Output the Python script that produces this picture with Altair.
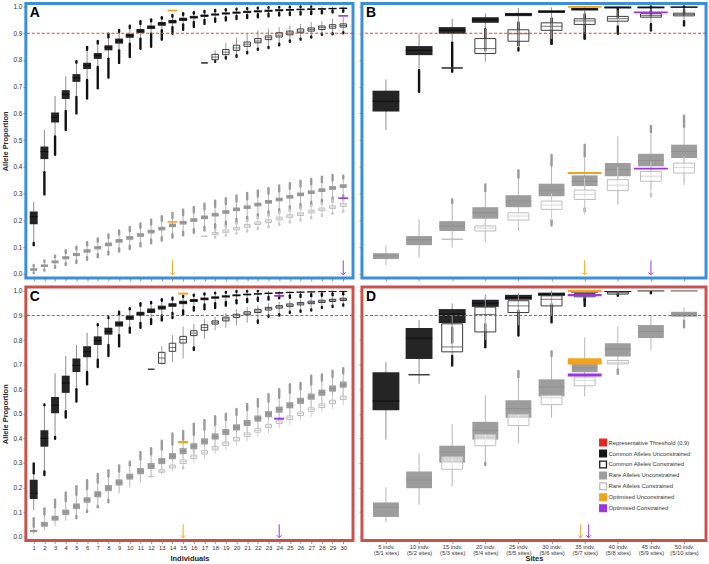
import json
import altair as alt
import pandas as pd

FONT = "Liberation Sans"

# ---------------------------------------------------------------- categories
INDIVIDUALS = list(range(1, 31))
SITE_GROUPS = list(range(1, 11))
SITE_LABELS = [
    ["5 indv.", "(5/1 sites)"], ["10 indv.", "(5/2 sites)"], ["15 indv.", "(5/3 sites)"],
    ["20 indv.", "(5/4 sites)"], ["25 indv.", "(5/5 sites)"], ["30 indv.", "(5/6 sites)"],
    ["35 indv.", "(5/7 sites)"], ["40 indv.", "(5/8 sites)"], ["45 indv.", "(5/9 sites)"],
    ["50 indv.", "(5/10 sites)"],
]
Y_TICKS = [0.0, 0.1, 0.2, 0.3, 0.4, 0.5, 0.6, 0.7, 0.8, 0.9, 1.0]
THRESHOLD = 0.9

LEGEND_LABELS = [
    "Representative Threshold (0.9)",
    "Common Alleles Unconstrained",
    "Common Alleles Constrained",
    "Rare Alleles Unconstrained",
    "Rare Alleles Constrained",
    "Optimised Unconstrained",
    "Optimised Constrained",
]

# Box summaries: (x, outlier min, whisker low, Q1, median, Q3, whisker high, outlier max)
# ---------------------------------------------------------------- panel A
A_COMMON_UNC = [
    (1, 0.107, 0.115, 0.185, 0.213, 0.233, 0.268, 0.268),
    (2, 0.297, 0.38, 0.429, 0.457, 0.476, 0.538, 0.538),
    (3, 0.445, 0.514, 0.566, 0.586, 0.603, 0.665, 0.665),
    (4, 0.538, 0.609, 0.654, 0.671, 0.687, 0.739, 0.739),
    (5, 0.60, 0.662, 0.718, 0.733, 0.747, 0.79, 0.795),
    (6, 0.656, 0.725, 0.766, 0.779, 0.79, 0.838, 0.849),
    (7, 0.694, 0.774, 0.804, 0.816, 0.826, 0.862, 0.871),
    (8, 0.734, 0.805, 0.836, 0.846, 0.855, 0.885, 0.898),
    (9, 0.789, 0.836, 0.861, 0.871, 0.88, 0.905, 0.912),
    (10, 0.811, 0.861, 0.883, 0.892, 0.898, 0.92, 0.928),
    (11, 0.842, 0.88, 0.901, 0.908, 0.916, 0.935, 0.945),
    (12, 0.849, 0.898, 0.916, 0.923, 0.929, 0.945, 0.952),
    (13, 0.876, 0.911, 0.928, 0.935, 0.942, 0.955, 0.96),
    (14, 0.898, 0.923, 0.937, 0.943, 0.95, 0.962, 0.968),
    (15, 0.913, 0.933, 0.946, 0.952, 0.958, 0.968, 0.975),
    (16, 0.923, 0.942, 0.955, 0.96, 0.965, 0.974, 0.979),
    (17, 0.935, 0.95, 0.961, 0.966, 0.97, 0.978, 0.983),
    (18, 0.943, 0.955, 0.966, 0.97, 0.974, 0.982, 0.987),
    (19, 0.948, 0.96, 0.97, 0.974, 0.978, 0.986, 0.99),
    (20, 0.953, 0.965, 0.973, 0.977, 0.981, 0.989, 0.992),
    (21, 0.957, 0.968, 0.976, 0.98, 0.984, 0.991, 0.994),
    (22, 0.96, 0.971, 0.978, 0.982, 0.986, 0.993, 0.996),
    (23, 0.963, 0.973, 0.98, 0.984, 0.988, 0.995, 0.997),
    (24, 0.966, 0.976, 0.982, 0.986, 0.99, 0.996, 0.998),
    (25, 0.968, 0.978, 0.984, 0.988, 0.991, 0.997, 0.999),
    (26, 0.97, 0.98, 0.986, 0.989, 0.992, 0.998, 1.0),
    (27, 0.972, 0.982, 0.987, 0.99, 0.993, 0.999, 1.0),
    (28, 0.975, 0.983, 0.988, 0.991, 0.994, 1.0, 1.0),
    (29, 0.978, 0.985, 0.99, 0.992, 0.995, 1.0, 1.0),
    (30, 0.98, 0.986, 0.991, 0.993, 0.996, 1.0, 1.0),
]
A_COMMON_CON = [
    (17, 0.789, 0.789, 0.789, 0.789, 0.789, 0.789, 0.789),
    (18, 0.793, 0.795, 0.801, 0.811, 0.821, 0.836, 0.836),
    (19, 0.805, 0.811, 0.82, 0.829, 0.839, 0.864, 0.864),
    (20, 0.812, 0.818, 0.836, 0.845, 0.855, 0.883, 0.883),
    (21, 0.825, 0.83, 0.851, 0.859, 0.867, 0.898, 0.898),
    (22, 0.838, 0.842, 0.864, 0.871, 0.88, 0.911, 0.911),
    (23, 0.845, 0.849, 0.876, 0.883, 0.89, 0.917, 0.917),
    (24, 0.855, 0.861, 0.886, 0.893, 0.902, 0.923, 0.923),
    (25, 0.868, 0.873, 0.894, 0.901, 0.908, 0.929, 0.929),
    (26, 0.876, 0.88, 0.902, 0.908, 0.916, 0.935, 0.935),
    (27, 0.884, 0.888, 0.908, 0.914, 0.92, 0.942, 0.942),
    (28, 0.894, 0.898, 0.914, 0.921, 0.927, 0.945, 0.945),
    (29, 0.896, 0.9, 0.919, 0.926, 0.932, 0.954, 0.954),
    (30, 0.9, 0.904, 0.923, 0.929, 0.935, 0.96, 0.96),
]
A_RARE_UNC = [
    (1, 0.003, 0.005, 0.011, 0.015, 0.021, 0.028, 0.033),
    (2, 0.012, 0.016, 0.025, 0.03, 0.035, 0.045, 0.05),
    (3, 0.022, 0.028, 0.039, 0.045, 0.05, 0.062, 0.068),
    (4, 0.033, 0.04, 0.054, 0.06, 0.066, 0.078, 0.088),
    (5, 0.04, 0.05, 0.066, 0.072, 0.078, 0.092, 0.101),
    (6, 0.052, 0.062, 0.079, 0.086, 0.092, 0.107, 0.118),
    (7, 0.062, 0.073, 0.091, 0.098, 0.104, 0.12, 0.132),
    (8, 0.072, 0.083, 0.103, 0.11, 0.117, 0.134, 0.147),
    (9, 0.083, 0.095, 0.116, 0.123, 0.13, 0.148, 0.162),
    (10, 0.093, 0.105, 0.127, 0.134, 0.141, 0.16, 0.175),
    (11, 0.103, 0.115, 0.138, 0.145, 0.152, 0.172, 0.188),
    (12, 0.114, 0.127, 0.151, 0.158, 0.165, 0.185, 0.202),
    (13, 0.124, 0.137, 0.162, 0.169, 0.176, 0.197, 0.215),
    (14, 0.135, 0.148, 0.174, 0.181, 0.188, 0.209, 0.228),
    (15, 0.144, 0.157, 0.184, 0.191, 0.198, 0.22, 0.24),
    (16, 0.153, 0.167, 0.194, 0.201, 0.208, 0.23, 0.25),
    (17, 0.162, 0.176, 0.204, 0.211, 0.218, 0.241, 0.262),
    (18, 0.171, 0.185, 0.214, 0.221, 0.228, 0.251, 0.273),
    (19, 0.18, 0.195, 0.224, 0.231, 0.238, 0.261, 0.283),
    (20, 0.19, 0.205, 0.234, 0.241, 0.248, 0.271, 0.293),
    (21, 0.198, 0.213, 0.242, 0.249, 0.256, 0.279, 0.302),
    (22, 0.208, 0.223, 0.252, 0.259, 0.266, 0.289, 0.312),
    (23, 0.218, 0.233, 0.262, 0.269, 0.276, 0.299, 0.321),
    (24, 0.227, 0.242, 0.271, 0.278, 0.285, 0.308, 0.33),
    (25, 0.237, 0.252, 0.281, 0.288, 0.295, 0.318, 0.339),
    (26, 0.246, 0.261, 0.29, 0.297, 0.304, 0.327, 0.348),
    (27, 0.254, 0.269, 0.298, 0.305, 0.312, 0.335, 0.355),
    (28, 0.262, 0.277, 0.306, 0.313, 0.32, 0.343, 0.363),
    (29, 0.27, 0.285, 0.314, 0.321, 0.328, 0.35, 0.37),
    (30, 0.278, 0.293, 0.321, 0.328, 0.335, 0.357, 0.367),
]
A_RARE_CON = [
    (17, 0.14, 0.14, 0.14, 0.14, 0.14, 0.14, 0.14),
    (18, 0.135, 0.138, 0.146, 0.15, 0.154, 0.162, 0.165),
    (19, 0.142, 0.145, 0.155, 0.159, 0.164, 0.174, 0.178),
    (20, 0.15, 0.153, 0.164, 0.169, 0.174, 0.186, 0.19),
    (21, 0.158, 0.162, 0.174, 0.179, 0.184, 0.197, 0.2),
    (22, 0.167, 0.171, 0.184, 0.189, 0.194, 0.208, 0.212),
    (23, 0.174, 0.178, 0.192, 0.197, 0.202, 0.217, 0.22),
    (24, 0.183, 0.187, 0.202, 0.207, 0.212, 0.227, 0.23),
    (25, 0.192, 0.196, 0.211, 0.216, 0.221, 0.236, 0.24),
    (26, 0.199, 0.203, 0.218, 0.223, 0.228, 0.243, 0.247),
    (27, 0.208, 0.212, 0.228, 0.233, 0.238, 0.254, 0.257),
    (28, 0.216, 0.22, 0.236, 0.241, 0.246, 0.262, 0.265),
    (29, 0.224, 0.228, 0.244, 0.249, 0.254, 0.27, 0.274),
    (30, 0.232, 0.236, 0.252, 0.258, 0.264, 0.28, 0.284),
]
A_OPT_UNC = [(14, 0.982, 0.988), (14, 0.191, 0.197)]
A_OPT_CON = [(30, 0.962, 0.968), (30, 0.28, 0.286)]
A_ARROW_UNC = [14]
A_ARROW_CON = [30]

# ---------------------------------------------------------------- panel B
B_COMMON_UNC = [
    (1, 0.538, 0.538, 0.607, 0.646, 0.685, 0.727, 0.727),
    (2, 0.681, 0.762, 0.818, 0.836, 0.852, 0.898, 0.898),
    (3, 0.756, 0.865, 0.898, 0.911, 0.923, 0.954, 0.954),
    (4, 0.836, 0.915, 0.939, 0.95, 0.96, 0.975, 0.975),
    (5, 0.855, 0.94, 0.964, 0.97, 0.976, 0.995, 0.995),
    (6, 0.861, 0.955, 0.976, 0.981, 0.986, 0.997, 0.997),
    (7, 0.88, 0.97, 0.985, 0.99, 0.995, 1.0, 1.0),
    (8, 0.96, 0.985, 0.993, 0.997, 1.0, 1.0, 1.0),
    (9, 0.965, 0.985, 0.993, 0.997, 1.0, 1.0, 1.0),
    (10, 0.97, 0.988, 0.995, 0.998, 1.0, 1.0, 1.0),
]
B_COMMON_CON = [
    (3, 0.77, 0.77, 0.77, 0.77, 0.77, 0.77, 0.77),
    (4, 0.793, 0.793, 0.824, 0.843, 0.88, 0.917, 0.917),
    (5, 0.835, 0.845, 0.87, 0.898, 0.913, 0.95, 0.95),
    (6, 0.86, 0.875, 0.911, 0.926, 0.939, 0.975, 0.975),
    (7, 0.88, 0.9, 0.933, 0.946, 0.954, 0.985, 0.985),
    (8, 0.898, 0.925, 0.945, 0.954, 0.963, 0.99, 0.995),
    (9, 0.91, 0.935, 0.96, 0.966, 0.973, 0.995, 1.0),
    (10, 0.929, 0.945, 0.965, 0.97, 0.975, 0.997, 1.0),
]
B_RARE_UNC = [
    (1, 0.032, 0.032, 0.055, 0.067, 0.077, 0.107, 0.107),
    (2, 0.061, 0.061, 0.107, 0.127, 0.141, 0.203, 0.203),
    (3, 0.098, 0.098, 0.16, 0.179, 0.197, 0.265, 0.278),
    (4, 0.119, 0.119, 0.206, 0.228, 0.249, 0.31, 0.334),
    (5, 0.16, 0.16, 0.249, 0.272, 0.294, 0.36, 0.387),
    (6, 0.181, 0.2, 0.29, 0.313, 0.337, 0.405, 0.445),
    (7, 0.234, 0.245, 0.328, 0.346, 0.368, 0.44, 0.483),
    (8, 0.259, 0.259, 0.365, 0.39, 0.414, 0.514, 0.514),
    (9, 0.315, 0.315, 0.402, 0.424, 0.449, 0.53, 0.553),
    (10, 0.34, 0.34, 0.433, 0.458, 0.483, 0.55, 0.591),
]
B_RARE_CON = [
    (3, 0.129, 0.129, 0.129, 0.129, 0.129, 0.129, 0.129),
    (4, 0.123, 0.123, 0.16, 0.171, 0.179, 0.2, 0.2),
    (5, 0.17, 0.17, 0.201, 0.216, 0.228, 0.25, 0.25),
    (6, 0.2, 0.2, 0.241, 0.257, 0.272, 0.3, 0.3),
    (7, 0.22, 0.22, 0.278, 0.297, 0.313, 0.36, 0.36),
    (8, 0.26, 0.26, 0.311, 0.331, 0.352, 0.4, 0.4),
    (9, 0.29, 0.3, 0.346, 0.365, 0.383, 0.42, 0.42),
    (10, 0.33, 0.33, 0.377, 0.398, 0.414, 0.44, 0.44),
]
B_OPT_UNC = [(7, 0.995, 1.002), (7, 0.373, 0.381)]
B_OPT_CON = [(9, 0.975, 0.981), (9, 0.39, 0.397)]
B_ARROW_UNC = [7]
B_ARROW_CON = [9]

# ---------------------------------------------------------------- panel C
C_COMMON_UNC = [
    (1, 0.109, 0.109, 0.153, 0.177, 0.231, 0.258, 0.298),
    (2, 0.251, 0.265, 0.366, 0.4, 0.433, 0.535, 0.538),
    (3, 0.398, 0.406, 0.502, 0.535, 0.568, 0.665, 0.665),
    (4, 0.485, 0.51, 0.585, 0.625, 0.655, 0.735, 0.735),
    (5, 0.55, 0.6, 0.67, 0.697, 0.725, 0.78, 0.78),
    (6, 0.62, 0.67, 0.73, 0.752, 0.775, 0.83, 0.83),
    (7, 0.69, 0.72, 0.78, 0.798, 0.815, 0.86, 0.865),
    (8, 0.735, 0.78, 0.822, 0.835, 0.85, 0.89, 0.893),
    (9, 0.775, 0.82, 0.855, 0.866, 0.876, 0.905, 0.915),
    (10, 0.83, 0.85, 0.882, 0.891, 0.9, 0.925, 0.93),
    (11, 0.85, 0.87, 0.898, 0.906, 0.915, 0.94, 0.95),
    (12, 0.865, 0.885, 0.91, 0.918, 0.928, 0.95, 0.955),
    (13, 0.88, 0.9, 0.924, 0.932, 0.94, 0.96, 0.966),
    (14, 0.89, 0.91, 0.935, 0.943, 0.95, 0.965, 0.972),
    (15, 0.905, 0.92, 0.946, 0.953, 0.96, 0.975, 0.98),
    (16, 0.92, 0.935, 0.955, 0.961, 0.967, 0.98, 0.985),
    (17, 0.925, 0.945, 0.962, 0.968, 0.973, 0.985, 0.99),
    (18, 0.93, 0.95, 0.968, 0.973, 0.978, 0.99, 0.993),
    (19, 0.94, 0.955, 0.973, 0.978, 0.982, 0.993, 0.996),
    (20, 0.95, 0.962, 0.978, 0.982, 0.986, 0.996, 1.0),
    (21, 0.955, 0.967, 0.982, 0.985, 0.989, 0.998, 1.0),
    (22, 0.96, 0.972, 0.985, 0.988, 0.991, 0.999, 1.0),
    (23, 0.965, 0.976, 0.987, 0.99, 0.993, 1.0, 1.0),
    (24, 0.97, 0.979, 0.989, 0.992, 0.995, 1.0, 1.0),
    (25, 0.972, 0.982, 0.991, 0.994, 0.996, 1.0, 1.0),
    (26, 0.975, 0.985, 0.993, 0.995, 0.997, 1.0, 1.0),
    (27, 0.978, 0.987, 0.994, 0.996, 0.998, 1.0, 1.0),
    (28, 0.98, 0.989, 0.995, 0.997, 0.999, 1.0, 1.0),
    (29, 0.982, 0.99, 0.996, 0.998, 0.999, 1.0, 1.0),
    (30, 0.985, 0.992, 0.997, 0.998, 1.0, 1.0, 1.0),
]
C_COMMON_CON = [
    (12, 0.681, 0.681, 0.681, 0.681, 0.681, 0.681, 0.681),
    (13, 0.70, 0.70, 0.705, 0.727, 0.75, 0.775, 0.775),
    (14, 0.71, 0.71, 0.754, 0.77, 0.787, 0.82, 0.82),
    (15, 0.725, 0.725, 0.788, 0.802, 0.815, 0.855, 0.855),
    (16, 0.76, 0.77, 0.818, 0.828, 0.838, 0.865, 0.865),
    (17, 0.805, 0.805, 0.84, 0.851, 0.862, 0.885, 0.885),
    (18, 0.84, 0.84, 0.865, 0.872, 0.878, 0.895, 0.895),
    (19, 0.85, 0.85, 0.878, 0.886, 0.893, 0.91, 0.91),
    (20, 0.86, 0.86, 0.892, 0.899, 0.905, 0.925, 0.925),
    (21, 0.87, 0.87, 0.903, 0.909, 0.915, 0.935, 0.935),
    (22, 0.87, 0.88, 0.912, 0.918, 0.925, 0.94, 0.94),
    (23, 0.895, 0.9, 0.922, 0.928, 0.933, 0.95, 0.95),
    (24, 0.9, 0.905, 0.93, 0.935, 0.94, 0.955, 0.955),
    (25, 0.91, 0.915, 0.937, 0.942, 0.947, 0.96, 0.96),
    (26, 0.915, 0.92, 0.943, 0.948, 0.953, 0.965, 0.965),
    (27, 0.92, 0.925, 0.948, 0.953, 0.958, 0.97, 0.97),
    (28, 0.93, 0.935, 0.953, 0.958, 0.962, 0.975, 0.975),
    (29, 0.935, 0.94, 0.957, 0.962, 0.966, 0.978, 0.978),
    (30, 0.94, 0.945, 0.961, 0.966, 0.97, 0.982, 0.982),
]
C_RARE_UNC = [
    (1, 0.01, 0.01, 0.018, 0.023, 0.028, 0.04, 0.075),
    (2, 0.025, 0.025, 0.04, 0.05, 0.06, 0.09, 0.115),
    (3, 0.045, 0.045, 0.065, 0.075, 0.085, 0.12, 0.15),
    (4, 0.065, 0.065, 0.088, 0.1, 0.11, 0.145, 0.18),
    (5, 0.075, 0.085, 0.112, 0.124, 0.135, 0.17, 0.205),
    (6, 0.1, 0.105, 0.138, 0.15, 0.16, 0.195, 0.23),
    (7, 0.12, 0.125, 0.16, 0.173, 0.185, 0.22, 0.255),
    (8, 0.14, 0.15, 0.185, 0.197, 0.21, 0.245, 0.27),
    (9, 0.175, 0.175, 0.208, 0.22, 0.233, 0.265, 0.29),
    (10, 0.2, 0.2, 0.232, 0.244, 0.256, 0.29, 0.305),
    (11, 0.22, 0.22, 0.254, 0.266, 0.279, 0.315, 0.345),
    (12, 0.24, 0.24, 0.275, 0.287, 0.3, 0.335, 0.36),
    (13, 0.26, 0.26, 0.295, 0.307, 0.32, 0.355, 0.39),
    (14, 0.275, 0.275, 0.315, 0.327, 0.34, 0.375, 0.42),
    (15, 0.295, 0.295, 0.335, 0.348, 0.36, 0.395, 0.43),
    (16, 0.315, 0.315, 0.355, 0.367, 0.38, 0.415, 0.46),
    (17, 0.335, 0.335, 0.375, 0.387, 0.4, 0.435, 0.475),
    (18, 0.355, 0.355, 0.395, 0.407, 0.42, 0.455, 0.49),
    (19, 0.375, 0.375, 0.413, 0.426, 0.438, 0.475, 0.5),
    (20, 0.39, 0.39, 0.432, 0.445, 0.457, 0.495, 0.52),
    (21, 0.41, 0.41, 0.45, 0.463, 0.475, 0.515, 0.54),
    (22, 0.43, 0.43, 0.468, 0.481, 0.493, 0.53, 0.56),
    (23, 0.445, 0.445, 0.486, 0.499, 0.511, 0.55, 0.58),
    (24, 0.465, 0.465, 0.504, 0.517, 0.529, 0.565, 0.6),
    (25, 0.48, 0.48, 0.522, 0.535, 0.547, 0.585, 0.62),
    (26, 0.5, 0.5, 0.54, 0.552, 0.565, 0.6, 0.625),
    (27, 0.515, 0.515, 0.557, 0.569, 0.582, 0.62, 0.655),
    (28, 0.53, 0.53, 0.573, 0.586, 0.598, 0.635, 0.66),
    (29, 0.55, 0.55, 0.59, 0.602, 0.615, 0.65, 0.675),
    (30, 0.565, 0.565, 0.606, 0.618, 0.631, 0.665, 0.685),
]
C_RARE_CON = [
    (12, 0.245, 0.245, 0.245, 0.245, 0.245, 0.245, 0.245),
    (13, 0.25, 0.25, 0.262, 0.267, 0.272, 0.285, 0.285),
    (14, 0.265, 0.265, 0.279, 0.285, 0.291, 0.305, 0.305),
    (15, 0.278, 0.283, 0.298, 0.305, 0.312, 0.325, 0.325),
    (16, 0.3, 0.3, 0.318, 0.325, 0.332, 0.345, 0.35),
    (17, 0.318, 0.318, 0.336, 0.343, 0.35, 0.365, 0.365),
    (18, 0.335, 0.335, 0.353, 0.36, 0.367, 0.385, 0.385),
    (19, 0.352, 0.352, 0.371, 0.378, 0.385, 0.402, 0.402),
    (20, 0.37, 0.37, 0.39, 0.397, 0.404, 0.42, 0.42),
    (21, 0.388, 0.388, 0.408, 0.415, 0.422, 0.44, 0.44),
    (22, 0.405, 0.405, 0.425, 0.432, 0.439, 0.458, 0.458),
    (23, 0.422, 0.422, 0.443, 0.45, 0.457, 0.475, 0.475),
    (24, 0.44, 0.44, 0.46, 0.467, 0.474, 0.493, 0.493),
    (25, 0.455, 0.455, 0.477, 0.484, 0.491, 0.51, 0.51),
    (26, 0.472, 0.472, 0.493, 0.5, 0.507, 0.527, 0.527),
    (27, 0.488, 0.488, 0.51, 0.517, 0.524, 0.545, 0.545),
    (28, 0.505, 0.505, 0.526, 0.533, 0.54, 0.56, 0.56),
    (29, 0.52, 0.52, 0.541, 0.548, 0.555, 0.575, 0.575),
    (30, 0.535, 0.535, 0.558, 0.565, 0.572, 0.59, 0.59),
]
C_OPT_UNC = [(15, 0.985, 0.993), (15, 0.38, 0.389)]
C_OPT_CON = [(24, 0.976, 0.984), (24, 0.476, 0.484)]
C_ARROW_UNC = [15]
C_ARROW_CON = [24]

# ---------------------------------------------------------------- panel D
D_COMMON_UNC = [
    (1, 0.395, 0.395, 0.514, 0.552, 0.669, 0.71, 0.71),
    (2, 0.622, 0.622, 0.723, 0.808, 0.849, 0.881, 0.881),
    (3, 0.79, 0.85, 0.869, 0.906, 0.926, 0.949, 0.949),
    (4, 0.771, 0.865, 0.935, 0.95, 0.964, 0.984, 0.984),
    (5, 0.818, 0.919, 0.964, 0.973, 0.984, 0.993, 0.993),
    (6, 0.872, 0.946, 0.98, 0.986, 0.993, 1.0, 1.0),
    (7, 0.939, 0.975, 0.993, 0.997, 1.0, 1.0, 1.0),
    (8, 0.98, 0.99, 0.996, 0.998, 1.0, 1.0, 1.0),
    (9, 0.99, 0.995, 0.999, 1.0, 1.0, 1.0, 1.0),
    (10, 1.0, 1.0, 1.0, 1.0, 1.0, 1.0, 1.0),
]
D_COMMON_CON = [
    (2, 0.659, 0.659, 0.659, 0.659, 0.659, 0.659, 0.659),
    (3, 0.696, 0.735, 0.752, 0.772, 0.866, 0.9, 0.9),
    (4, 0.8, 0.8, 0.833, 0.904, 0.934, 0.97, 0.97),
    (5, 0.86, 0.86, 0.912, 0.939, 0.96, 0.985, 0.985),
    (6, 0.9, 0.9, 0.939, 0.966, 0.98, 0.995, 0.995),
    (7, 0.96, 0.965, 0.976, 0.982, 0.989, 0.998, 0.998),
    (8, 0.985, 0.985, 0.987, 0.992, 0.996, 1.0, 1.0),
]
D_RARE_UNC = [
    (1, 0.058, 0.058, 0.08, 0.12, 0.139, 0.201, 0.201),
    (2, 0.13, 0.13, 0.197, 0.231, 0.265, 0.339, 0.339),
    (3, 0.204, 0.204, 0.301, 0.345, 0.37, 0.457, 0.457),
    (4, 0.291, 0.3, 0.395, 0.433, 0.467, 0.575, 0.575),
    (5, 0.379, 0.379, 0.484, 0.521, 0.555, 0.65, 0.673),
    (6, 0.484, 0.484, 0.571, 0.609, 0.64, 0.735, 0.754),
    (7, 0.571, 0.571, 0.669, 0.687, 0.706, 0.811, 0.811),
    (8, 0.663, 0.68, 0.733, 0.764, 0.787, 0.856, 0.856),
    (9, 0.757, 0.757, 0.808, 0.835, 0.861, 0.903, 0.903),
    (10, 0.852, 0.879, 0.895, 0.906, 0.915, 0.933, 0.933),
]
D_RARE_CON = [
    (3, 0.274, 0.274, 0.274, 0.305, 0.325, 0.325, 0.325),
    (4, 0.37, 0.37, 0.37, 0.403, 0.416, 0.416, 0.416),
    (5, 0.452, 0.452, 0.452, 0.487, 0.498, 0.498, 0.498),
    (6, 0.537, 0.537, 0.537, 0.565, 0.575, 0.575, 0.575),
    (7, 0.614, 0.614, 0.614, 0.636, 0.649, 0.649, 0.649),
    (8, 0.703, 0.703, 0.703, 0.71, 0.717, 0.717, 0.717),
]
D_OPT_UNC = [(7, 0.995, 1.004), (7, 0.700, 0.726)]
D_OPT_CON = [(7, 0.978, 0.987), (7, 0.652, 0.664)]
D_ARROW_UNC = [6.88]
D_ARROW_CON = [7.12]

# ---------------------------------------------------------------- styling
COLS = ["x", "olo", "wlo", "q1", "med", "q3", "whi", "ohi"]
ORANGE = "#f4a21c"
PURPLE = "#9b35e0"
BLUE_FRAME = "#3a8fdb"
RED_FRAME = "#c9534c"
THRESHOLD_RED = "#ea3f3b"
ARROW_TOP = 0.05
ARROW_TIP = -0.004
ARROW_HEAD = "M-1,-1L0,0L1,-1"

STYLE_COMMON_UNC = dict(fill="#252525", fill_opacity=1.0, edge=None, median="#000000",
                        whisker="#8c8c8c", dots="#111111")
STYLE_COMMON_CON = dict(fill="#ffffff", fill_opacity=0.3, edge="#3c3c3c", median="#3c3c3c",
                        whisker="#999999", dots="#1a1a1a")
STYLE_RARE_UNC = dict(fill="#9d9d9d", fill_opacity=1.0, edge=None, median="#8a8a8a",
                      whisker="#b5b5b5", dots="#9a9a9a")
STYLE_RARE_CON = dict(fill="#ffffff", fill_opacity=0.6, edge="#bdbdbd", median="#c4c4c4",
                      whisker="#d0d0d0", dots="#c8c8c8")


def box_layers(rows, X, Y, width, st):
    base = alt.Chart(pd.DataFrame(rows, columns=COLS))
    out = [
        base.mark_rule(color=st["whisker"], strokeWidth=1).encode(x=X, y=Y("wlo"), y2=alt.Y2("whi")),
        base.transform_filter("datum.olo < datum.wlo")
        .mark_rule(color=st["dots"], strokeWidth=2.4, strokeCap="round")
        .encode(x=X, y=Y("olo"), y2=alt.Y2("wlo")),
        base.transform_filter("datum.ohi > datum.whi")
        .mark_rule(color=st["dots"], strokeWidth=2.4, strokeCap="round")
        .encode(x=X, y=Y("whi"), y2=alt.Y2("ohi")),
    ]
    bar_kw = dict(orient="vertical", size=width, fill=st["fill"], fillOpacity=st["fill_opacity"])
    if st["edge"]:
        bar_kw.update(stroke=st["edge"], strokeWidth=1)
    out.append(base.mark_bar(**bar_kw).encode(x=X, y=Y("q1"), y2=alt.Y2("q3")))
    out.append(base.mark_tick(orient="horizontal", size=width, thickness=1, color=st["median"])
               .encode(x=X, y=Y("med")))
    return out


def marker_layers(rows, X, Y, width, color):
    df = pd.DataFrame(rows, columns=["x", "lo", "hi"])
    return [alt.Chart(df).mark_bar(orient="vertical", size=width, color=color)
            .encode(x=X, y=Y("lo"), y2=alt.Y2("hi"))]


def arrow_layers(xs, X, Y, color):
    df = pd.DataFrame({"x": xs, "top": ARROW_TOP, "tip": ARROW_TIP})
    base = alt.Chart(df)
    return [
        base.mark_rule(color=color, strokeWidth=1).encode(x=X, y=Y("top"), y2=alt.Y2("tip")),
        base.mark_point(shape=ARROW_HEAD, size=22, filled=False, strokeWidth=1, color=color, opacity=1)
        .encode(x=X, y=Y("tip")),
    ]


def panel(letter, xdom, ydom, xaxis, yaxis, width, height, frame_color, series, widths,
          opt_unc, opt_con, arr_unc, arr_con, marker_w, extra=()):
    xs = alt.Scale(domain=xdom, nice=False, zero=False)
    ys = alt.Scale(domain=ydom, nice=False, zero=False)
    X = alt.X("x:Q", scale=xs, axis=xaxis)

    def Y(field):
        return alt.Y(field, type="quantitative", scale=ys, axis=yaxis)

    layers = []
    styles = [STYLE_RARE_UNC, STYLE_RARE_CON, STYLE_COMMON_UNC, STYLE_COMMON_CON]
    for rows, st, w in zip(series, styles, widths):
        layers += box_layers(rows, X, Y, w, st)
    # representative threshold, dashed across the panel
    layers.append(
        alt.Chart(pd.DataFrame({"t": [THRESHOLD]}))
        .mark_rule(strokeDash=[3, 2], strokeWidth=1.2, strokeOpacity=1)
        .encode(y=Y("t"), color=alt.value(THRESHOLD_RED))
    )
    layers += marker_layers(opt_unc, X, Y, marker_w, ORANGE)
    layers += marker_layers(opt_con, X, Y, marker_w, PURPLE)
    layers += arrow_layers(arr_unc, X, Y, ORANGE)
    layers += arrow_layers(arr_con, X, Y, PURPLE)
    layers.append(
        alt.Chart(pd.DataFrame({"t": [letter]}))
        .mark_text(align="left", baseline="alphabetic", fontSize=14, fontWeight="bold",
                   font=FONT, color="#000000")
        .encode(text="t:N", x=alt.value(4), y=alt.value(14))
    )
    for make in extra:
        layers.append(make(X, Y))
    return alt.layer(*layers).properties(
        width=width, height=height,
        view=alt.ViewBackground(stroke=frame_color, strokeWidth=3, fill="white"),
    )


def legend_layer(X, Y):
    fills = ["#e8231e", "#151515", "#ffffff", "#9d9d9d", "#ffffff", ORANGE, PURPLE]
    strokes = ["#e8231e", "#151515", "#151515", "#9d9d9d", "#bdbdbd", ORANGE, PURPLE]
    leg = alt.Legend(orient="none", legendX=238, legendY=152, title=None, padding=0,
                     symbolType="square", symbolSize=46, symbolStrokeWidth=1.3,
                     labelFontSize=5.9, labelFont=FONT, labelColor="#333333",
                     labelOffset=1, rowPadding=-2.3, labelLimit=200)
    df = pd.DataFrame({"label": LEGEND_LABELS, "x": 1, "y": 2.0})
    return (
        alt.Chart(df).mark_square(clip=True, size=46, opacity=1)
        .encode(
            x=X, y=Y("y"),
            fill=alt.Fill("label:N", scale=alt.Scale(domain=LEGEND_LABELS, range=fills), legend=leg),
            stroke=alt.Stroke("label:N", scale=alt.Scale(domain=LEGEND_LABELS, range=strokes), legend=leg),
        )
    )


IND_DOM = [0.729, 30.45]
SITE_DOM = [0.426, 10.513]
TOP_DOM = [-0.016, 1.011]
BOT_DOM = [-0.016, 1.016]

y_main = alt.Axis(values=Y_TICKS, format=".1f", title="Allele Proportion", labelFontSize=6.5,
                  labelPadding=1, titlePadding=3, tickSize=3)
y_side = alt.Axis(values=Y_TICKS, labels=False, title=None, tickSize=3)
x_ind_top = alt.Axis(values=INDIVIDUALS, labels=False, title=None, tickSize=3)
x_site_top = alt.Axis(values=SITE_GROUPS, labels=False, title=None, tickSize=3)
x_ind = alt.Axis(values=INDIVIDUALS, title="Individuals", labelFontSize=6, labelPadding=1,
                 titlePadding=4, tickSize=3, labelAngle=0)
x_site = alt.Axis(values=SITE_GROUPS, title="Sites", labelFontSize=5.8, labelPadding=0,
                  labelLineHeight=6, titlePadding=-1, tickSize=3, labelAngle=0,
                  labelExpr=json.dumps(SITE_LABELS) + "[datum.value - 1]")

W_SMALL = [7, 6, 8, 6.5]
W_WIDE = [26, 21, 27, 21]

chart_a = panel("A", IND_DOM, TOP_DOM, x_ind_top, y_main, 329, 276, BLUE_FRAME,
                [A_RARE_UNC, A_RARE_CON, A_COMMON_UNC, A_COMMON_CON], W_SMALL,
                A_OPT_UNC, A_OPT_CON, A_ARROW_UNC, A_ARROW_CON, 10)
chart_b = panel("B", SITE_DOM, TOP_DOM, x_site_top, y_side, 346, 276, BLUE_FRAME,
                [B_RARE_UNC, B_RARE_CON, B_COMMON_UNC, B_COMMON_CON], W_WIDE,
                B_OPT_UNC, B_OPT_CON, B_ARROW_UNC, B_ARROW_CON, 34)
chart_c = panel("C", IND_DOM, BOT_DOM, x_ind, y_main, 329, 255, RED_FRAME,
                [C_RARE_UNC, C_RARE_CON, C_COMMON_UNC, C_COMMON_CON], W_SMALL,
                C_OPT_UNC, C_OPT_CON, C_ARROW_UNC, C_ARROW_CON, 10)
chart_d = panel("D", SITE_DOM, BOT_DOM, x_site, y_side, 346, 255, RED_FRAME,
                [D_RARE_UNC, D_RARE_CON, D_COMMON_UNC, D_COMMON_CON], W_WIDE,
                D_OPT_UNC, D_OPT_CON, D_ARROW_UNC, D_ARROW_CON, 34, extra=[legend_layer])

top_row = alt.hconcat(chart_a, chart_b, spacing=1).resolve_scale(fill="independent", stroke="independent")
bottom_row = alt.hconcat(chart_c, chart_d, spacing=1).resolve_scale(fill="independent", stroke="independent")

chart = (
    alt.vconcat(top_row, bottom_row, spacing=2)
    .resolve_scale(fill="independent", stroke="independent")
    .properties(padding={"left": 0, "top": 0, "right": 0, "bottom": 0}, background="white")
    .configure_axis(domain=False, grid=False, tickColor="#7a7a7a", tickWidth=0.8,
                    labelColor="#333333", labelFont=FONT, titleFont=FONT, titleFontWeight="bold",
                    titleColor="#222222", titleFontSize=7.5)
)

chart.save("out.html", embed_options={"renderer": "svg", "actions": False})
